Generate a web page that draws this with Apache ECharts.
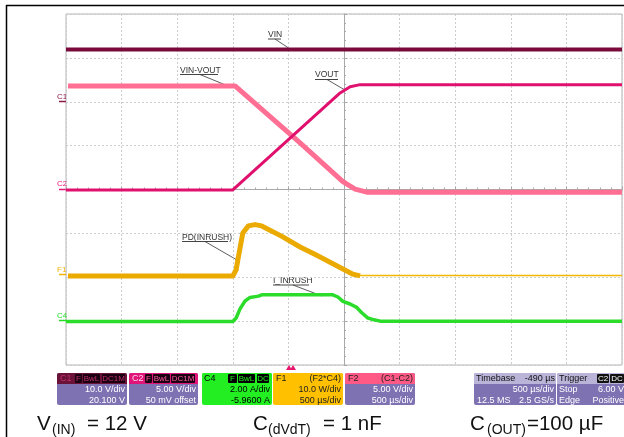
<!DOCTYPE html>
<html><head><meta charset="utf-8">
<script src="https://cdn.jsdelivr.net/npm/echarts@6/dist/echarts.min.js"></script>
<style>html,body{margin:0;padding:0;background:#fff}#c{width:624px;height:437px}</style>
</head><body><div id="c"></div>
<script>
// x: time from left edge of the screen in µs (500 µs/div, 10 div)
// y: screen position in divisions from the bottom (8 div)
const vinT  = [0, 5000];
const vinY  = [7.19, 7.19];
const voutT = [0, 1500, 2015, 2465, 2555, 2645, 5000];
const voutY = [3.99, 3.99, 5.17, 6.20, 6.34, 6.39, 6.39];
const diffT = [18, 1520, 2105, 2490, 2600, 2705, 5000];
const diffY = [6.36, 6.36, 5.06, 4.18, 4.01, 3.94, 3.94];
const pdT   = [18, 1500, 1530, 1550, 1590, 1640, 1700, 1760, 1950, 2105, 2255, 2490, 2580, 2645];
const pdY   = [2.03, 2.03, 2.17, 2.46, 3.01, 3.17, 3.20, 3.17, 2.92, 2.69, 2.50, 2.19, 2.07, 2.03];
const pdTailT = [2645, 5000];
const pdTailY = [2.04, 2.04];
const iT    = [0, 1500, 1530, 1565, 1610, 1655, 1730, 1760, 2400, 2445, 2490, 2555, 2610, 2660, 2715, 2770, 2825, 5000];
const iY    = [0.99, 0.99, 1.07, 1.28, 1.46, 1.54, 1.57, 1.60, 1.60, 1.55, 1.45, 1.39, 1.32, 1.19, 1.07, 1.03, 1.00, 1.00];

const zip = (a, b) => a.map((v, i) => [v, b[i]]);
const FONT = '"Liberation Sans", Arial, sans-serif';

const G = [];
function ln(x1, y1, x2, y2, color, w) { G.push({type:'line', silent:true, shape:{x1, y1, x2, y2}, style:{stroke:color, lineWidth:w}}); }
function rc(x, y, w, h, fill, r) { G.push({type:'rect', silent:true, shape:{x, y, width:w, height:h, r:r || 0}, style:{fill}}); }
function tx(x, y, t, fill, size, align) {
  G.push({type:'text', silent:true, x, y, style:{text:t, fill, font: size + 'px ' + FONT,
    textAlign: align || 'left', textVerticalAlign:'middle', align: align || 'left', verticalAlign:'middle'}});
}

// outer black frame
ln(6, 5.5, 624, 5.5, '#000', 1.5);
ln(6.5, 5, 6.5, 437, '#000', 1.5);

// channel markers on the left
const markers = [
  ['C1', 97, 101.5, '#8a1a4a'],
  ['C2', 184, 189.5, '#e8157a'],
  ['F1', 270, 274.5, '#f0b400'],
  ['C4', 316, 320.5, '#22dd22']
];
markers.forEach(m => { tx(57, m[1], m[0], m[3], 8); ln(59, m[2], 66, m[2], m[3], 1.5); });

// annotations
const ann = [
  ['VIN', 268, 35, 281, 39, 275, 39, 290, 49],
  ['VIN-VOUT', 180, 70.5, 218, 74.5, 200, 74.5, 228, 86],
  ['VOUT', 315, 75, 338, 79.5, 327, 79.5, 345, 90],
  ['PD(INRUSH)', 182, 237.5, 228, 241.5, 205, 241.5, 237, 260],
  ['I_INRUSH', 273, 280.5, 309, 285, 293, 285, 322, 296]
];
ann.forEach(a => {
  tx(a[1], a[2], a[0], '#333', 8.5);
  ln(a[1], a[4], a[3], a[4], '#444', 1);
  ln(a[5], a[6], a[7], a[8], '#333', 0.8);
});

// trigger marker
G.push({type:'polygon', silent:true, shape:{points:[[286,370],[289,365],[292,370]]}, style:{fill:'#e8156e'}});
G.push({type:'polygon', silent:true, shape:{points:[[290,370],[293,365],[296,370]]}, style:{fill:'#e8156e'}});

// info boxes
const PURPLE = '#7e72b2';
const Y0 = 373, HH = 11, R1 = 390, R2 = 400.5, HC = 378.5;
function box(x, w, hdr, body) { rc(x, Y0, w, 32, body, 2); rc(x, Y0, w, HH, hdr, [2,2,0,0]); }
function badge(x, w, t, bg, fg) { rc(x, Y0 + 1, w, HH - 2, bg, 1); tx(x + w / 2, HC, t, fg, 8, 'center'); }

box(57, 70, '#6a1238', PURPLE);
tx(60, HC, 'C1', '#c0306a', 9);
badge(75, 7, 'F', '#1a0010', '#c0306a'); badge(83, 17, 'BwL', '#1a0010', '#c0306a'); badge(102, 23, 'DC1M', '#1a0010', '#c0306a');
tx(125, R1, '10.0 V/div', '#fff', 9, 'right'); tx(125, R2, '20.100 V', '#fff', 9, 'right');

box(129, 69, '#e0157a', PURPLE);
tx(132, HC, 'C2', '#ffd0e6', 9);
badge(145, 7, 'F', '#1a0010', '#ff5aa0'); badge(153, 17, 'BwL', '#1a0010', '#ff5aa0'); badge(171, 24, 'DC1M', '#1a0010', '#ff5aa0');
tx(196, R1, '5.00 V/div', '#fff', 9, 'right'); tx(196, R2, '50 mV offset', '#fff', 9, 'right');

box(202, 70, '#22ee22', '#22ee22');
tx(204, HC, 'C4', '#000', 9);
badge(228, 9, 'F', '#000', '#22ee22'); badge(238, 17, 'BwL', '#000', '#22ee22'); badge(257, 12, 'DC', '#000', '#22ee22');
tx(270, R1, '2.00 A/div', '#000', 9, 'right'); tx(270, R2, '-5.9600 A', '#000', 9, 'right');

box(273, 70, '#ffc000', '#ffc000');
tx(276, HC, 'F1', '#222', 9); tx(341, HC, '(F2*C4)', '#222', 9, 'right');
tx(341, R1, '10.0 W/div', '#222', 9, 'right'); tx(341, R2, '500 µs/div', '#222', 9, 'right');

box(345, 70, '#ff5a85', PURPLE);
tx(348, HC, 'F2', '#222', 9); tx(413, HC, '(C1-C2)', '#222', 9, 'right');
tx(413, R1, '5.00 V/div', '#fff', 9, 'right'); tx(413, R2, '500 µs/div', '#fff', 9, 'right');

box(474, 82, '#bab4d8', PURPLE);
tx(476, HC, 'Timebase', '#111', 9); tx(555, HC, '-490 µs', '#111', 9, 'right');
tx(554, R1, '500 µs/div', '#fff', 9, 'right');
tx(477, R2, '12.5 MS', '#fff', 9); tx(554, R2, '2.5 GS/s', '#fff', 9, 'right');

box(557, 70, '#bab4d8', PURPLE);
tx(559, HC, 'Trigger', '#111', 9);
badge(597, 12, 'C2', '#111', '#fff'); badge(610, 14, 'DC', '#111', '#fff');
tx(559, R1, 'Stop', '#fff', 9); tx(624, R1, '6.00 V', '#fff', 9, 'right');
tx(559, R2, 'Edge', '#fff', 9); tx(624, R2, 'Positive', '#fff', 9, 'right');

// bottom captions
tx(37, 424, 'V', '#111', 20.5); tx(52, 430.5, '(IN)', '#111', 14); tx(87, 424, '= 12 V', '#111', 20.5);
tx(253, 424, 'C', '#111', 20.5); tx(268, 430.5, '(dVdT)', '#111', 14); tx(323, 424, '= 1 nF', '#111', 20.5);
tx(470, 424, 'C', '#111', 20.5); tx(487, 430.5, '(OUT)', '#111', 14); tx(527, 424, '=100 µF', '#111', 20.5);

const noAx = {axisLine:{show:false}, axisTick:{show:false}, axisLabel:{show:false}};
const gridLine = {show:true, lineStyle:{color:'#cdcdcd', type:[2,2], width:1}};
const center = {color:'#a8a8a8', width:1};

function ser(name, t, y, color, w, z) {
  return {name, type:'line', xAxisIndex:0, yAxisIndex:0, data: zip(t, y), showSymbol:false, symbol:'none',
    lineStyle:{color, width:w, join:'round'}, z: z, animation:false, silent:true};
}

const chart = echarts.init(document.getElementById('c'), null, {renderer:'canvas'});
chart.setOption({
  animation:false,
  backgroundColor:'#fff',
  grid:[
    {left:66, top:14, width:556, height:351, show:true, borderColor:'#b4b4b4', borderWidth:1, backgroundColor:'transparent'},
    {left:66, top:14, width:556, height:351, show:false}
  ],
  xAxis:[
    Object.assign({type:'value', gridIndex:0, min:0, max:5000, interval:500, splitLine:gridLine}, noAx),
    {type:'value', gridIndex:1, min:-5, max:5, interval:1, axisLabel:{show:false}, splitLine:{show:false},
     axisLine:{show:true, onZero:true, lineStyle:center}, axisTick:{show:true, inside:true, length:3, lineStyle:center},
     minorTick:{show:true, splitNumber:5, length:2, lineStyle:center}}
  ],
  yAxis:[
    Object.assign({type:'value', gridIndex:0, min:0, max:8, interval:1, splitLine:gridLine}, noAx),
    {type:'value', gridIndex:1, min:-4, max:4, interval:1, axisLabel:{show:false}, splitLine:{show:false},
     axisLine:{show:true, onZero:true, lineStyle:center}, axisTick:{show:true, inside:true, length:3, lineStyle:center},
     minorTick:{show:true, splitNumber:5, length:2, lineStyle:center}}
  ],
  series:[
    ser('VIN', vinT, vinY, '#7a0a3c', 4, 3),
    ser('VIN-VOUT', diffT, diffY, '#ff6f93', 5, 4),
    ser('VOUT', voutT, voutY, '#e0106e', 3, 5),
    ser('PD(INRUSH)', pdT, pdY, '#eaaa00', 5, 4),
    ser('PD tail', pdTailT, pdTailY, '#f5b800', 1.5, 4),
    ser('I_INRUSH', iT, iY, '#2bdc2b', 3.5, 4)
  ],
  graphic:{elements:G}
});
</script></body></html>
